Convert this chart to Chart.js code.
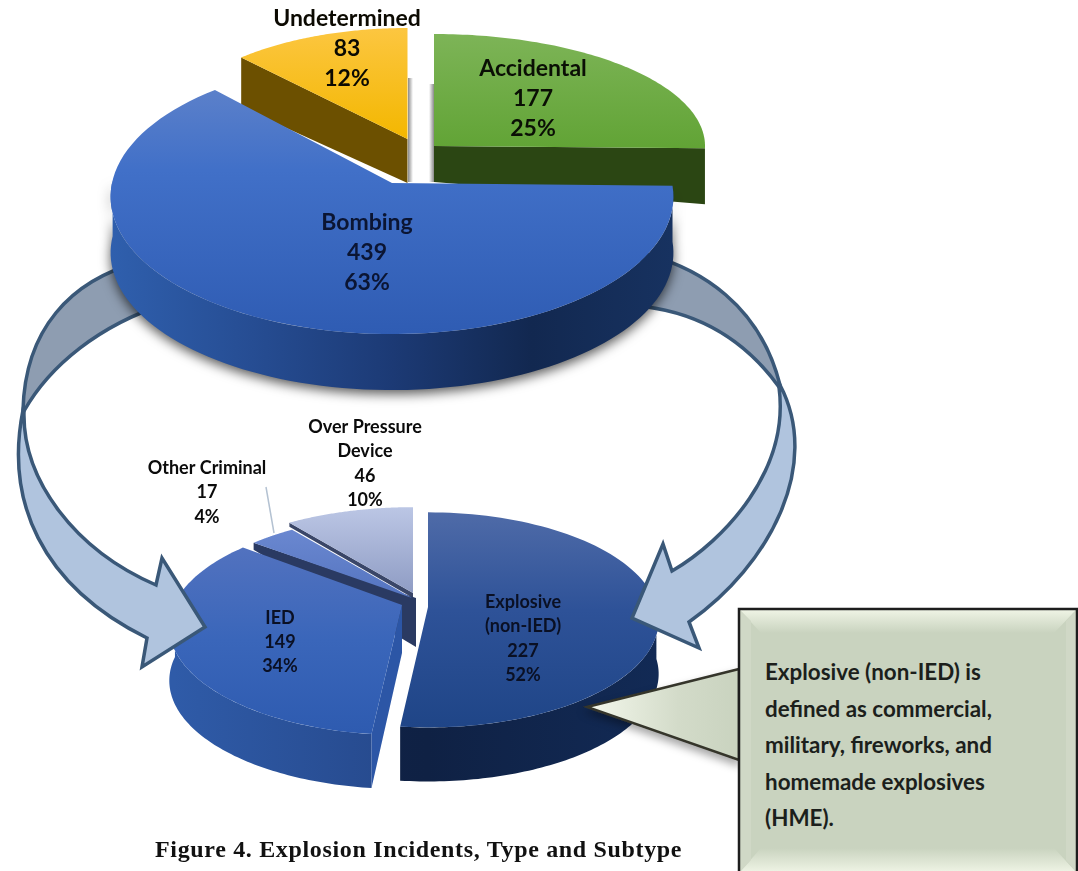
<!DOCTYPE html>
<html>
<head>
<meta charset="utf-8">
<title>Figure 4. Explosion Incidents, Type and Subtype</title>
<script src="https://cdn.jsdelivr.net/npm/chart.js@4"></script>
<style>
    body { margin: 0; background: #fff; }
    #stage { position: relative; width: 1078px; height: 871px; overflow: hidden; }
    #stage canvas, #stage svg { position: absolute; left: 0; top: 0; }
    #lowerPie { z-index: 1; }
    #arrows { z-index: 2; }
    #upperPie { z-index: 3; }
    #callout { z-index: 4; }
    .note {
        position: absolute; z-index: 5; left: 765px; top: 654px;
        font: bold 22.4px/36.5px Lato, sans-serif; color: #1c1f1c; white-space: nowrap;
    }
    .caption {
        position: absolute; z-index: 5; left: 155px; top: 836px;
        font: bold 24px "Liberation Serif", serif; letter-spacing: 0.66px; color: #111; white-space: nowrap;
    }
</style>
</head>
<body>
<div id="stage">
    <canvas id="lowerPie" width="1078" height="871"></canvas>
    <svg id="arrows" width="1078" height="871"></svg>
    <canvas id="upperPie" width="1078" height="871"></canvas>
    <svg id="callout" width="1078" height="871">
        <defs>
            <linearGradient id="tailFill" x1="587" x2="739" y1="0" y2="0" gradientUnits="userSpaceOnUse">
                <stop offset="0" stop-color="#f4f8ec"/><stop offset="0.6" stop-color="#d3dbc9"/><stop offset="1" stop-color="#c9d3bf"/>
            </linearGradient>
            <linearGradient id="bevelTop" x1="0" x2="0" y1="0" y2="1">
                <stop offset="0" stop-color="#f0f5e6"/><stop offset="1" stop-color="#c9d3bf"/>
            </linearGradient>
            <linearGradient id="bevelBottom" x1="0" x2="0" y1="0" y2="1">
                <stop offset="0" stop-color="#c9d3bf"/><stop offset="1" stop-color="#f0f5e6"/>
            </linearGradient>
            <filter id="tailShadow" x="-20%" y="-20%" width="140%" height="160%">
                <feDropShadow dx="0" dy="5" stdDeviation="4" flood-color="#000" flood-opacity="0.35"/>
            </filter>
        </defs>
        <path d="M739 669 L587 707 L739 760 Z" fill="url(#tailFill)" stroke="#35352c" stroke-width="2.5" filter="url(#tailShadow)"/>
        <rect x="739" y="609" width="338" height="264" fill="#c9d3bf"/>
        <path d="M739 609 L1077 609 L1054 633 L761 633 Z" fill="url(#bevelTop)"/>
        <path d="M739 873 L1077 873 L1054 848 L761 848 Z" fill="url(#bevelBottom)"/>
        <path d="M739 609 L751 621 L751 860 L739 873 Z" fill="#d0d8c6"/>
        <path d="M1077 609 L1066 621 L1066 860 L1077 873 Z" fill="#d0d8c6"/>
        <path d="M739 873 L739 609 L1077 609 L1077 873" fill="none" stroke="#1d1d1d" stroke-width="2.5"/>
    </svg>
    <div class="note">Explosive (non-IED) is<br>defined as commercial,<br>military, fireworks, and<br>homemade explosives<br>(HME).</div>
    <div class="caption">Figure 4. Explosion Incidents, Type and Subtype</div>
</div>

<script>
// Data
const upperLabels = ['Accidental', 'Bombing', 'Undetermined'];
const upperValues = [177, 439, 83];
const upperShares = ['25%', '63%', '12%'];

const lowerLabels = ['Explosive\n(non-IED)', 'IED', 'Other Criminal', 'Over Pressure\nDevice'];
const lowerValues = [227, 149, 17, 46];
const lowerShares = ['52%', '34%', '4%', '10%'];

// Each slice sits on its own tilted disc. k is the perspective of the tilt.
const upperSlices = [
    { cx: 434, cy: 146, rx: 271, ry: 112, k: 0, depth: 56,
      top: [[34, '#7db457'], [146, '#62a436']], wall: ['#2a4512', '#2a4512'],
      face: { side: 'end', outer: 56, inner: 36 }, faceColor: '#2b4613' },
    { cx: 392, cy: 183, rx: 280, ry: 136, k: -0.1, depth: 56,
      top: [[90, '#5b80ca'], [170, '#4170c8'], [334, '#2f5cb3']],
      wall: ['#2f5fad', '#264d93', '#1c3a75', '#122850', '#173260'], shadow: true },
    { cx: 407.5, cy: 139, rx: 245, ry: 111, k: 0, depth: 42,
      top: [[29, '#fcc640'], [139, '#f3b700']], wall: ['#6b4e00', '#6b4e00'],
      face: { side: 'start', outer: 50, inner: 44 }, faceColor: '#6c5000' }
];
const lowerSlices = [
    { cx: 428, cy: 607, rx: 229, ry: 106, k: -0.12, depth: 54,
      top: [[512, '#4f6ba8'], [610, '#2e5298'], [728, '#1f4587']],
      wall: ['#10254a', '#0f2144', '#122a55'] },
    { cx: 402, cy: 605, rx: 228, ry: 104, k: -0.2, depth: 54,
      top: [[547, '#5272bf'], [640, '#3a66ba'], [733, '#2e5bb0']],
      wall: ['#2f5ba8', '#26498c', '#1e3e78'],
      face: { side: 'start', outer: 54, inner: 48 }, faceColor: '#2c56a6' },
    { cx: 412, cy: 598, rx: 227, ry: 100, k: -0.2, depth: 0,
      top: [[522, '#6d8ad2'], [598, '#5474c0']], wall: ['#2a3a62', '#2a3a62'],
      face: { side: 'start', outer: 7, inner: 49, shift: 4 }, faceColor: '#2a3a62' },
    { cx: 413, cy: 593, rx: 234, ry: 103, k: -0.2, depth: 0,
      top: [[504, '#bdc8e6'], [593, '#8f9cc4']], wall: ['#3a4668', '#3a4668'],
      face: { side: 'start', outer: 4, inner: 5 }, faceColor: '#3a4668' }
];

const upperOrder = [0, 2, 1];
const lowerOrder = [3, 2, 1, 0];

const upperSpots = [
    { x: 533, y: 69, gap: 30, color: '#0a0f05' },
    { x: 367, y: 223, gap: 30, color: '#0b1533' },
    { x: 347, y: 19, gap: 30, color: '#0c0a02' }
];
const lowerSpots = [
    { x: 523, y: 602, gap: 24.4, color: '#0a1024' },
    { x: 280, y: 618, gap: 24.2, color: '#0a1024' },
    { x: 207, y: 468, gap: 24.5, color: '#0b0b0b' },
    { x: 365, y: 427, gap: 24.4, color: '#0b0b0b' }
];

function project(s, angle) {
    const u = Math.cos(angle);
    const v = Math.sin(angle);
    const w = 1 + s.k * v;
    return { x: s.cx + s.rx * u / w, y: s.cy + s.ry * v / w };
}

function arcPoints(s, start, end) {
    const pts = [];
    const steps = 90;
    for (let i = 0; i <= steps; i++) {
        pts.push(project(s, start + (end - start) * i / steps));
    }
    return pts;
}

function drawWall(ctx, s, arc) {
    // only the near half of the rim can be seen
    if (!s.depth || arc.endAngle <= 0 || arc.startAngle >= Math.PI) return;
    const pts = arcPoints(s, Math.max(arc.startAngle, -0.02), Math.min(arc.endAngle, Math.PI + 0.02));
    const grad = ctx.createLinearGradient(s.cx - s.rx, 0, s.cx + s.rx, 0);
    s.wall.forEach((c, i) => grad.addColorStop(i / (s.wall.length - 1), c));
    ctx.save();
    if (s.shadow) {
        ctx.shadowColor = 'rgba(0,0,0,0.65)';
        ctx.shadowBlur = 12;
        ctx.shadowOffsetY = 4;
    }
    ctx.fillStyle = grad;
    ctx.beginPath();
    pts.forEach((p, i) => i ? ctx.lineTo(p.x, p.y) : ctx.moveTo(p.x, p.y));
    pts.slice().reverse().forEach(p => ctx.lineTo(p.x, p.y + s.depth));
    ctx.closePath();
    ctx.fill();
    ctx.restore();
}

function drawFace(ctx, s, arc) {
    if (!s.face) return;
    const corner = project(s, s.face.side === 'start' ? arc.startAngle : arc.endAngle);
    const shift = s.face.shift || 0;
    ctx.fillStyle = s.faceColor;
    ctx.beginPath();
    ctx.moveTo(corner.x, corner.y);
    ctx.lineTo(s.cx + shift, s.cy);
    ctx.lineTo(s.cx + shift, s.cy + s.face.inner);
    ctx.lineTo(corner.x, corner.y + s.face.outer);
    ctx.closePath();
    ctx.fill();
}

function drawTop(ctx, s, arc) {
    const y0 = s.top[0][0];
    const y1 = s.top[s.top.length - 1][0];
    const grad = ctx.createLinearGradient(0, y0, 0, y1);
    s.top.forEach(stop => grad.addColorStop((stop[0] - y0) / (y1 - y0), stop[1]));
    ctx.fillStyle = grad;
    ctx.beginPath();
    ctx.moveTo(s.cx, s.cy);
    arcPoints(s, arc.startAngle, arc.endAngle).forEach(p => ctx.lineTo(p.x, p.y));
    ctx.closePath();
    ctx.fill();
}

function sideShadow(ctx, x0, x1, y0, y1) {
    const grad = ctx.createLinearGradient(x0, 0, x1, 0);
    grad.addColorStop(0, 'rgba(40,40,40,0.55)');
    grad.addColorStop(1, 'rgba(40,40,40,0)');
    ctx.fillStyle = grad;
    ctx.fillRect(Math.min(x0, x1), y0, Math.abs(x1 - x0), y1 - y0);
}

function pieLabels(ctx, labels, values, shares, spots, px) {
    ctx.textAlign = 'center';
    ctx.textBaseline = 'middle';
    ctx.font = 'bold ' + px + 'px Lato, sans-serif';
    labels.forEach((label, i) => {
        const lines = label.split('\n').concat([String(values[i]), shares[i]]);
        ctx.fillStyle = spots[i].color;
        lines.forEach((line, j) => ctx.fillText(line, spots[i].x, spots[i].y + j * spots[i].gap));
    });
}

function pie3d(slices, order, labels, values, shares, spots, px, extras) {
    return {
        id: 'pie3d',
        // the library lays out the arcs, we only redraw them tilted
        beforeDatasetDraw(chart) {
            const ctx = chart.ctx;
            const arcs = chart.getDatasetMeta(0).data;
            ctx.save();
            if (extras) extras(ctx);
            order.forEach(i => {
                drawWall(ctx, slices[i], arcs[i]);
                drawFace(ctx, slices[i], arcs[i]);
                drawTop(ctx, slices[i], arcs[i]);
            });
            pieLabels(ctx, labels, values, shares, spots, px);
            ctx.restore();
            return false;
        }
    };
}

function makePie(id, labels, values, slices, plugin) {
    return new Chart(document.getElementById(id).getContext('2d'), {
        type: 'pie',
        data: {
            labels: labels,
            datasets: [{ data: values, backgroundColor: slices.map(s => s.top[0][1]), borderWidth: 0 }]
        },
        options: {
            responsive: false,
            animation: false,
            events: [],
            plugins: { legend: { display: false }, tooltip: { enabled: false } }
        },
        plugins: [plugin]
    });
}

makePie('lowerPie', lowerLabels, lowerValues, lowerSlices,
    pie3d(lowerSlices, lowerOrder, lowerLabels, lowerValues, lowerShares, lowerSpots, 18, ctx => {
        // leader line of Other Criminal
        ctx.strokeStyle = '#b4c2d2';
        ctx.lineWidth = 1.5;
        ctx.beginPath();
        ctx.moveTo(266, 487);
        ctx.lineTo(274, 533);
        ctx.stroke();
    }));

makePie('upperPie', upperLabels, upperValues, upperSlices,
    pie3d(upperSlices, upperOrder, upperLabels, upperValues, upperShares, upperSpots, 23, ctx => {
        sideShadow(ctx, 408, 413, 78, 182);
        sideShadow(ctx, 434, 429, 84, 182);
    }));

// Curved arrows between the two pies, the heads are straight segments
const arrowShapes = [
    { fill: '#8e9db1', d: 'M140 262 C70 280 25 330 23 410 L24 411 C50 365 100 325 165 304 Z' },
    { fill: '#b0c4de', d: 'M23 410 C5 500 40 585 147 638 L142 667 L205 627 L162 558 L156 585 C75 550 22 480 24 411 Z' },
    { fill: '#8e9db1', d: 'M645 254 C700 268 760 305 780 385 L779 387 C745 340 695 308 625 305 Z' },
    { fill: '#b0c4de', d: 'M780 385 C822 465 770 565 689 622 L699 648 L632 618 L663 544 L672 571 C725 540 790 470 779 387 Z' }
];

document.getElementById('arrows').innerHTML = arrowShapes.map(a =>
    '<path d="' + a.d + '" fill="' + a.fill + '" stroke="#3a5878" stroke-width="3.5" stroke-linejoin="miter"/>').join('');
</script>
</body>
</html>
